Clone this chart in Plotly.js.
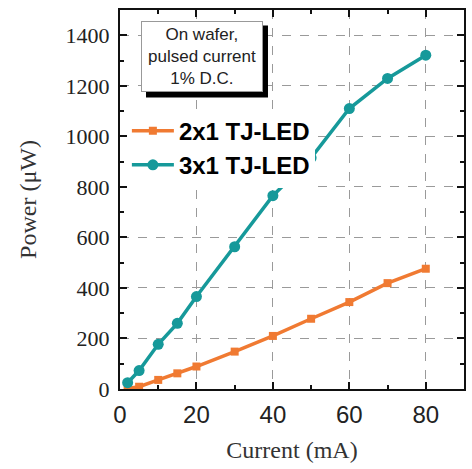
<!DOCTYPE html>
<html>
<head>
<meta charset="utf-8">
<script src="https://cdn.plot.ly/plotly-3.0.1.min.js"></script>
<style>html,body{margin:0;padding:0;background:#fff}#chart{width:472px;height:469px}</style>
</head>
<body>
<div id="chart"></div>
<script>
const currentMA = [2, 5, 10, 15, 20, 30, 40, 50, 60, 70, 80];
const power2x1 = [2, 9, 36, 62, 89, 148, 210, 278, 344, 419, 476];
const power3x1 = [25, 73, 177, 260, 366, 563, 765, 915, 1110, 1229, 1321];
const seriesNames = ["2x1 TJ-LED", "3x1 TJ-LED"];
const noteText = "On wafer,<br>pulsed current<br>1% D.C.";

const orange = "#F07A32";
const teal = "#16999A";

const traces = [
  {x: currentMA, y: power2x1, name: seriesNames[0], mode: "lines+markers",
   line: {color: orange, width: 3.5}, marker: {symbol: "square", size: 8, color: orange}},
  {x: currentMA, y: power3x1, name: seriesNames[1], mode: "lines+markers",
   line: {color: teal, width: 3.5}, marker: {symbol: "circle", size: 11, color: teal}}
];

const axisCommon = {
  showline: true, linecolor: "#111", linewidth: 2, mirror: "ticks",
  ticks: "inside", ticklen: 7, tickwidth: 2, tickcolor: "#111",
  showgrid: true, gridcolor: "#9a9a9a", gridwidth: 1, griddash: "dash",
  zeroline: false,
  minor: {ticks: "inside", ticklen: 4, tickwidth: 2, tickcolor: "#111", showgrid: false}
};

const layout = {
  width: 472, height: 469,
  margin: {l: 120, r: 8, t: 10, b: 80},
  paper_bgcolor: "#fff", plot_bgcolor: "#fff",
  showlegend: true,
  legend: {
    x: 0.02, y: 0.74, xanchor: "left", yanchor: "top",
    bgcolor: "#fff", borderwidth: 0, itemwidth: 42,
    font: {family: "Liberation Sans, Arial, sans-serif", size: 24, color: "#000", weight: "bold"},
    tracegroupgap: 0
  },
  xaxis: Object.assign({}, axisCommon, {
    range: [0, 90], dtick: 20, tick0: 0,
    minor: Object.assign({}, axisCommon.minor, {dtick: 10}),
    tickfont: {family: "Liberation Sans, Arial, sans-serif", size: 24, color: "#222"},
    ticklabelstandoff: 3,
    title: {text: "Current (mA)", font: {family: "Liberation Serif, Times New Roman, serif", size: 24, color: "#333"}, standoff: 14}
  }),
  yaxis: Object.assign({}, axisCommon, {
    range: [0, 1500], dtick: 200, tick0: 0,
    minor: Object.assign({}, axisCommon.minor, {dtick: 100}),
    tickfont: {family: "Liberation Serif, Times New Roman, serif", size: 22, color: "#222"},
    ticklabelstandoff: 4,
    title: {text: "Power (\u03bcW)", font: {family: "Liberation Serif, Times New Roman, serif", size: 24, color: "#333"}, standoff: 22}
  }),
  shapes: [
    {type: "rect", xref: "paper", yref: "paper", x0: 0.0756, x1: 0.4302, y0: 0.769, y1: 0.959,
     fillcolor: "#000", line: {width: 0}, layer: "above"}
  ],
  annotations: [
    {xref: "paper", yref: "paper", x: 0.238, y: 0.877, xanchor: "center", yanchor: "middle",
     text: noteText, showarrow: false, align: "center", width: 118, height: 67,
     font: {family: "Liberation Sans, Arial, sans-serif", size: 17, color: "#222"},
     bgcolor: "#fff", bordercolor: "#999", borderwidth: 1, borderpad: 1}
  ]
};

Plotly.newPlot("chart", traces, layout, {displayModeBar: false, staticPlot: true});
</script>
</body>
</html>
